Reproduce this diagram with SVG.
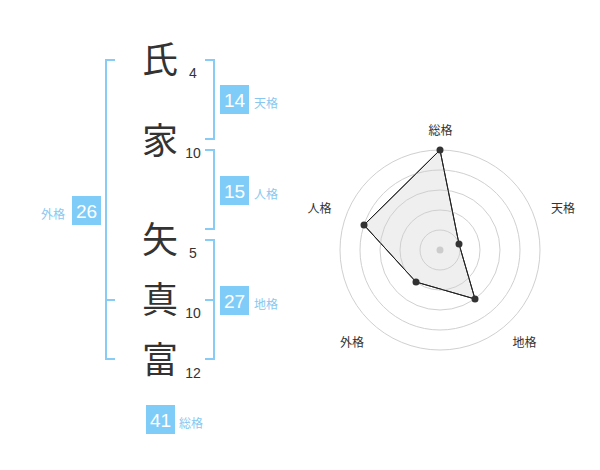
<svg xmlns="http://www.w3.org/2000/svg" width="600" height="470" viewBox="0 0 600 470">
<style>
.kanji{font-family:"Noto Sans CJK JP","Noto Sans",sans-serif;font-size:36px;fill:#333;text-anchor:middle}
.num{font-family:"Liberation Sans",Arial,sans-serif;font-size:14px;fill:#333;text-anchor:middle}
.br{fill:none;stroke:#88ccf6;stroke-width:2}
.box{fill:#80ccf8}
.bn{font-family:"Liberation Sans",Arial,sans-serif;font-size:19px;fill:#fff;text-anchor:middle}
.lb{font-family:"Noto Sans CJK JP",sans-serif;font-size:12px;fill:#88c8f0}
.rl{font-family:"Noto Sans CJK JP",sans-serif;font-size:12px;fill:#333;text-anchor:middle}
.ring{fill:none;stroke:#d0d0d0;stroke-width:1}
.pt{fill:#333}
</style>
<rect width="600" height="470" fill="#fff"/>
<g id="connectors">
<path class="br" d="M115,60 H106 V359 H115 M106,300 H115"/>
<path class="br" d="M205,60 H214 V139 H205"/>
<path class="br" d="M205,150 H214 V229 H205"/>
<path class="br" d="M205,240 H214 V359 H205 M205,300 H214"/>
</g>
<g id="char1"><text class="kanji" x="160" y="73">氏</text><text class="num" x="193" y="78">4</text></g>
<g id="char2"><text class="kanji" x="160" y="154">家</text><text class="num" x="193" y="158">10</text></g>
<g id="char3"><text class="kanji" x="160" y="253">矢</text><text class="num" x="193" y="258">5</text></g>
<g id="char4"><text class="kanji" x="160" y="313">真</text><text class="num" x="193" y="318">10</text></g>
<g id="char5"><text class="kanji" x="160" y="373">富</text><text class="num" x="193" y="378">12</text></g>
<g id="tenkaku"><rect class="box" x="220" y="85" width="29" height="29"/><text class="bn" x="234.5" y="106.5">14</text><text class="lb" x="254" y="108">天格</text></g>
<g id="jinkaku"><rect class="box" x="220" y="176" width="29" height="29"/><text class="bn" x="234.5" y="197.5">15</text><text class="lb" x="254" y="199">人格</text></g>
<g id="chikaku"><rect class="box" x="220" y="286" width="29" height="29"/><text class="bn" x="234.5" y="307.5">27</text><text class="lb" x="254" y="309">地格</text></g>
<g id="gaikaku"><rect class="box" x="72" y="196" width="29" height="29"/><text class="bn" x="86.5" y="217.5">26</text><text class="lb" x="41" y="219">外格</text></g>
<g id="soukaku"><rect class="box" x="146" y="405" width="29" height="29"/><text class="bn" x="160.5" y="426.5">41</text><text class="lb" x="179" y="428">総格</text></g>
<g id="radar">
<polygon points="440,150 459,244 475,299 416,282 364,225" fill="#efefef" stroke="#222" stroke-width="1"/>
<circle class="ring" cx="440" cy="250" r="20"/>
<circle class="ring" cx="440" cy="250" r="40"/>
<circle class="ring" cx="440" cy="250" r="60"/>
<circle class="ring" cx="440" cy="250" r="80"/>
<circle class="ring" cx="440" cy="250" r="100"/>
<polygon points="440,150 459,244 475,299 416,282 364,225" fill="none" stroke="#222" stroke-width="1"/>
<circle cx="440" cy="250" r="3.5" fill="#ccc"/>
<circle class="pt" cx="440" cy="150" r="3.5"/>
<circle class="pt" cx="459" cy="244" r="3.5"/>
<circle class="pt" cx="475" cy="299" r="3.5"/>
<circle class="pt" cx="416" cy="282" r="3.5"/>
<circle class="pt" cx="364" cy="225" r="3.5"/>
<text class="rl" x="440.5" y="135">総格</text>
<text class="rl" x="563" y="213">天格</text>
<text class="rl" x="524.5" y="347">地格</text>
<text class="rl" x="352" y="347">外格</text>
<text class="rl" x="319.5" y="213">人格</text>
</g>
</svg>
